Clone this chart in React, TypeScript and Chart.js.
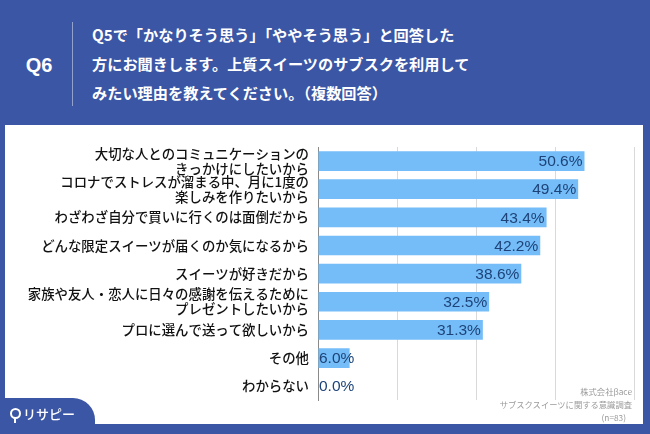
import React, { useEffect, useRef } from "react";
import { Chart, registerables } from "chart.js";

Chart.register(...registerables);

const categories: string[][] = [
  ["大切な人とのコミュニケーションの", "きっかけにしたいから"],
  ["コロナでストレスが溜まる中、月に1度の", "楽しみを作りたいから"],
  ["わざわざ自分で買いに行くのは面倒だから"],
  ["どんな限定スイーツが届くのか気になるから"],
  ["スイーツが好きだから"],
  ["家族や友人・恋人に日々の感謝を伝えるために", "プレゼントしたいから"],
  ["プロに選んで送って欲しいから"],
  ["その他"],
  ["わからない"],
];
const values: number[] = [50.6, 49.4, 43.4, 42.2, 38.6, 32.5, 31.3, 6.0, 0.0];
const titleLines: string[] = [
  "Q5で「かなりそう思う」「ややそう思う」と回答した",
  "方にお聞きします。上質スイーツのサブスクを利用して",
  "みたい理由を教えてください。（複数回答）",
];
const creditLines: string[] = ["株式会社βace", "サブスクスイーツに関する意識調査", "(n=83)"];

const BLUE = "#3b56a4";
const JP = '"Noto Sans CJK JP", "Noto Sans", sans-serif';

const valueLabelPlugin = {
  id: "valueLabels",
  afterDatasetsDraw(chart: any) {
    const ctx = chart.ctx;
    const meta = chart.getDatasetMeta(0);
    const xScale = chart.scales.x;
    const x0 = xScale.getPixelForValue(0);
    ctx.save();
    ctx.font = '15.5px "Liberation Sans", Arial, sans-serif';
    ctx.fillStyle = "#1e4378";
    ctx.textBaseline = "middle";
    meta.data.forEach((bar: any, i: number) => {
      const txt = values[i].toFixed(1) + "%";
      const w = ctx.measureText(txt).width;
      const end = bar.x - 2;
      if (end - w > x0 + 2) {
        ctx.textAlign = "right";
        ctx.fillText(txt, end, bar.y + 1);
      } else {
        ctx.textAlign = "left";
        ctx.fillText(txt, x0 + 1, bar.y + 1);
      }
    });
    ctx.restore();
  },
};

export default function App() {
  const ref = useRef<HTMLCanvasElement | null>(null);
  useEffect(() => {
    if (!ref.current) return;
    const chart = new Chart(ref.current, {
      type: "bar",
      data: {
        labels: categories,
        datasets: [
          {
            data: values,
            backgroundColor: "#74bdf8",
            borderWidth: 0,
            barPercentage: 0.7,
            categoryPercentage: 1,
          },
        ],
      },
      options: {
        indexAxis: "y",
        animation: false,
        responsive: false,
        maintainAspectRatio: false,
        layout: { padding: { top: 22, right: 9, bottom: 7, left: 0 } },
        plugins: { legend: { display: false }, tooltip: { enabled: false } },
        scales: {
          x: {
            min: 0,
            max: 60,
            ticks: { display: false, stepSize: 15 },
            grid: { color: "#d9d9d9", drawTicks: false, lineWidth: 1 },
            border: { display: false },
            afterFit: (s: any) => {
              s.height = 0;
            },
          },
          y: {
            ticks: {
              color: "#111",
              padding: 9,
              autoSkip: false,
              font: { family: JP, size: 13.4, weight: "500", lineHeight: 1.1 },
            },
            grid: { display: false, drawTicks: false },
            border: { display: true, color: "#8a8a8a", width: 1 },
            afterFit: (s: any) => {
              s.width = 313;
            },
          },
        },
      },
      plugins: [valueLabelPlugin],
    });
    return () => chart.destroy();
  }, []);

  return (
    <div
      style={{
        position: "fixed",
        left: 0,
        top: 0,
        width: 650,
        height: 434,
        background: BLUE,
        overflow: "hidden",
        fontFamily: JP,
      }}
    >
      <div
        style={{
          position: "absolute",
          left: 19,
          top: 52,
          width: 40,
          textAlign: "center",
          color: "#fff",
          fontFamily: '"Liberation Sans", Arial, sans-serif',
          fontWeight: 700,
          fontSize: 20,
          lineHeight: "26px",
        }}
      >
        Q6
      </div>
      <div
        style={{
          position: "absolute",
          left: 72,
          top: 22,
          width: 1,
          height: 84,
          background: "rgba(255,255,255,0.45)",
        }}
      />
      <div style={{ position: "absolute", left: 92, top: 20 }}>
        {titleLines.map((t, i) => (
          <div
            key={i}
            style={{
              color: "#fff",
              fontWeight: 700,
              fontSize: 15.2,
              lineHeight: "29px",
              whiteSpace: "nowrap",
            }}
          >
            {t}
          </div>
        ))}
      </div>
      <div
        style={{
          position: "absolute",
          left: 5,
          top: 125,
          width: 638,
          height: 299,
          background: "#fff",
        }}
      >
        <canvas ref={ref} width={638} height={299} style={{ display: "block" }} />
      </div>
      <div
        style={{
          position: "absolute",
          right: 18,
          top: 385,
          textAlign: "right",
          color: "#9a9a9a",
          fontSize: 8.3,
          lineHeight: "13px",
        }}
      >
        {creditLines.map((t, i) => (
          <div key={i} style={{ paddingRight: i === 2 ? 6 : 0 }}>
            {t}
          </div>
        ))}
      </div>
      <div
        style={{
          position: "absolute",
          left: 0,
          top: 398,
          width: 95,
          height: 40,
          background: BLUE,
          borderTopRightRadius: 22,
        }}
      >
        <div
          style={{
            position: "absolute",
            left: 10,
            top: 10,
            width: 7,
            height: 7,
            border: "2px solid #fff",
            borderRadius: "50%",
          }}
        />
        <div
          style={{
            position: "absolute",
            left: 14,
            top: 20,
            width: 2,
            height: 5,
            background: "#fff",
          }}
        />
        <div
          style={{
            position: "absolute",
            left: 23,
            top: 7,
            color: "#fff",
            fontSize: 13,
            fontWeight: 500,
            lineHeight: "18px",
            whiteSpace: "nowrap",
          }}
        >
          リサピー
        </div>
      </div>
    </div>
  );
}
